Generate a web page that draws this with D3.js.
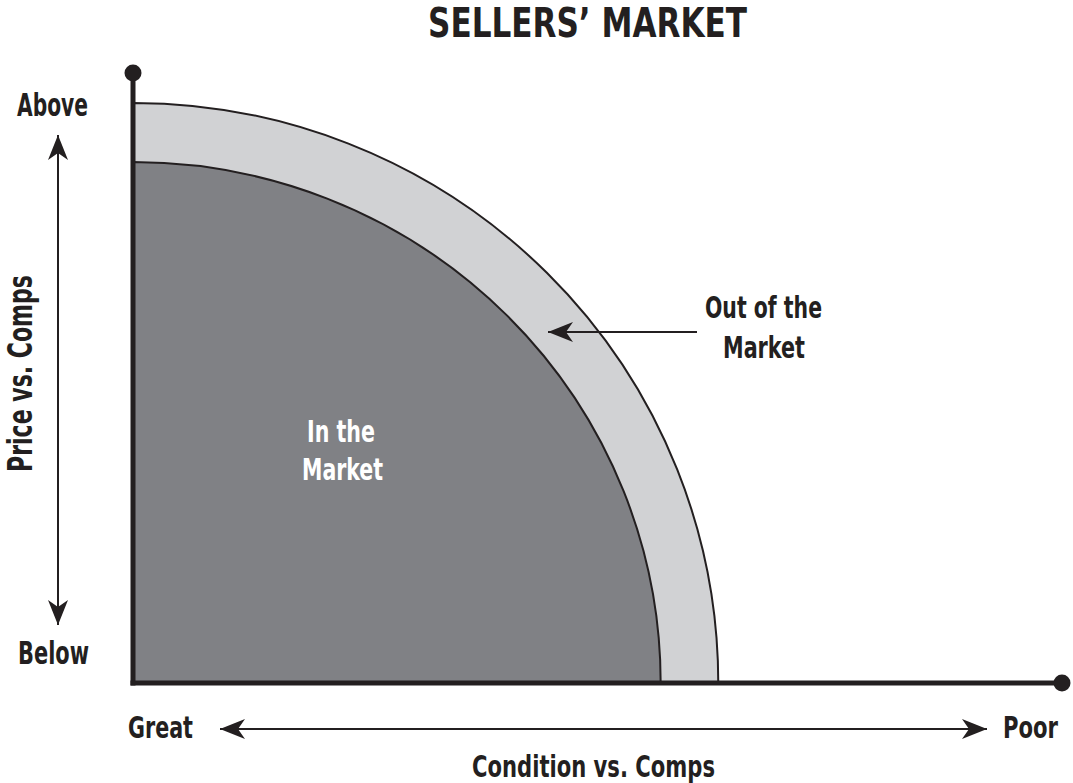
<!DOCTYPE html>
<html>
<head>
<meta charset="utf-8">
<script src="https://cdn.jsdelivr.net/npm/d3@7"></script>
<style>
  html, body { margin: 0; padding: 0; background: #fff; }
  svg text { font-family: "Liberation Sans Narrow", "DejaVu Sans Condensed", "Roboto", sans-serif; font-weight: bold; }
</style>
</head>
<body>
<svg id="chart"></svg>
<script>
const width = 1073;
const height = 783;

// zones, as share of each axis (0-100)
const zones = ["Out of the Market", "In the Market"];
const zoneReachCondition = [63.0, 56.8];
const zoneReachPrice = [95.1, 85.4];
const zoneFill = ["#d1d2d4", "#808185"];

const title = "SELLERS\u2019 MARKET";
const priceTicks = ["Below", "Above"];
const conditionTicks = ["Great", "Poor"];
const priceLabel = "Price vs. Comps";
const conditionLabel = "Condition vs. Comps";

const ink = "#231f20";

const svg = d3.select("#chart")
    .attr("width", width)
    .attr("height", height)
    .attr("viewBox", [0, 0, width, height]);

const x = d3.scaleLinear().domain([0, 100]).range([133, 1062]);
const y = d3.scaleLinear().domain([0, 100]).range([683, 73]);

// quarter ellipse from the origin
const quarter = (rc, rp) => {
    const rx = x(rc) - x(0), ry = y(0) - y(rp);
    return `M${x(0)},${y(0)}L${x(rc)},${y(0)}A${rx},${ry} 0 0 0 ${x(0)},${y(rp)}Z`;
};

svg.selectAll("path.zone")
    .data(zones)
    .join("path")
    .attr("class", "zone")
    .attr("d", (d, i) => quarter(zoneReachCondition[i], zoneReachPrice[i]))
    .attr("fill", (d, i) => zoneFill[i])
    .attr("stroke", ink)
    .attr("stroke-width", 2);

// axes
svg.append("line")
    .attr("x1", x(0)).attr("x2", x(0))
    .attr("y1", y(0) + 2.5).attr("y2", y(100))
    .attr("stroke", ink).attr("stroke-width", 5);
svg.append("line")
    .attr("x1", x(0) - 2.5).attr("x2", x(100))
    .attr("y1", y(0)).attr("y2", y(0))
    .attr("stroke", ink).attr("stroke-width", 5);
svg.append("circle").attr("cx", x(0)).attr("cy", y(100)).attr("r", 8.5).attr("fill", ink);
svg.append("circle").attr("cx", x(100)).attr("cy", y(0)).attr("r", 8.5).attr("fill", ink);

// arrows
const head = "M0,0L-25,-10L-18,0L-25,10Z";
function arrow(x1, y1, x2, y2, twoWay) {
    const g = svg.append("g");
    g.append("line")
        .attr("x1", x1).attr("y1", y1).attr("x2", x2).attr("y2", y2)
        .attr("stroke", ink).attr("stroke-width", 2);
    const ang = Math.atan2(y2 - y1, x2 - x1) * 180 / Math.PI;
    g.append("path").attr("d", head).attr("fill", ink)
        .attr("transform", `translate(${x2},${y2}) rotate(${ang})`);
    if (twoWay) {
        g.append("path").attr("d", head).attr("fill", ink)
            .attr("transform", `translate(${x1},${y1}) rotate(${ang + 180})`);
    }
}
arrow(58, 625, 58, 135, true);
arrow(220, 729, 987, 729, true);
arrow(697, 332, 548, 332, false);

// text
function label(txt, cx, base, size, len, fill) {
    return svg.append("text")
        .attr("x", cx).attr("y", base)
        .attr("text-anchor", "middle")
        .attr("font-size", size)
        .attr("textLength", len)
        .attr("lengthAdjust", "spacingAndGlyphs")
        .attr("fill", fill || ink)
        .text(txt);
}

label(title, 587.5, 37, 40, 319);
label(priceTicks[1], 52.5, 116, 32, 71);
label(priceTicks[0], 53.5, 664, 32, 71);
label(conditionTicks[0], 160.5, 738, 30, 65);
label(conditionTicks[1], 1030.5, 738, 30, 55);
label(conditionLabel, 593.5, 777, 31, 243);

svg.append("text")
    .attr("transform", "translate(32,373.5) rotate(-90)")
    .attr("text-anchor", "middle")
    .attr("font-size", 33)
    .attr("textLength", 197)
    .attr("lengthAdjust", "spacingAndGlyphs")
    .attr("fill", ink)
    .text(priceLabel);

label("Out of the", 763.5, 318, 31, 117);
label("Market", 764, 358, 31, 82);
label("In the", 341, 442, 31, 68, "#fff");
label("Market", 342.5, 480, 31, 81, "#fff");
</script>
</body>
</html>
